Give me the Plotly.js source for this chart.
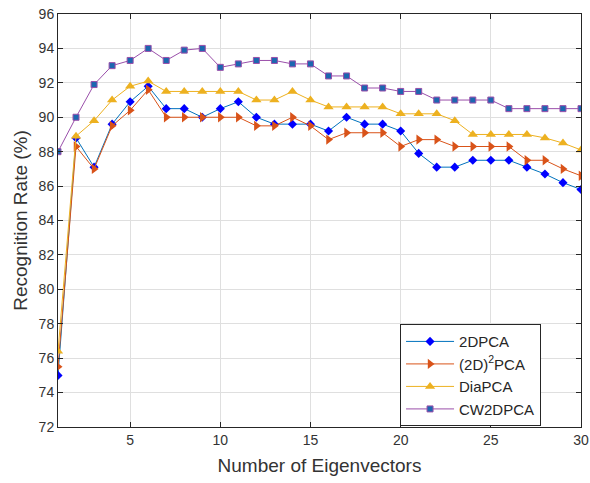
<!DOCTYPE html>
<html>
<head>
<meta charset="utf-8">
<script src="https://cdn.plot.ly/plotly-3.0.1.min.js"></script>
<style>html,body{margin:0;padding:0;background:#fff;}#chart{width:590px;height:483px;}</style>
</head>
<body>
<div id="chart"></div>
<script>
var eigenvectors = [1,2,3,4,5,6,7,8,9,10,11,12,13,14,15,16,17,18,19,20,21,22,23,24,25,26,27,28,29,30];
var pca2d = [75.0,88.8,87.1,89.6,90.9,91.8,90.5,90.5,90.0,90.5,90.9,90.0,89.6,89.6,89.6,89.2,90.0,89.6,89.6,89.2,87.9,87.1,87.1,87.5,87.5,87.5,87.1,86.7,86.2,85.8];
var pca2d2 = [75.5,88.3,87.0,89.5,90.4,91.6,90.0,90.0,90.0,90.0,90.0,89.5,89.5,90.0,89.5,88.7,89.1,89.1,89.1,88.3,88.7,88.7,88.3,88.3,88.3,88.3,87.5,87.5,87.0,86.6];
var diaPCA = [76.4,88.9,89.8,91.0,91.8,92.1,91.5,91.5,91.5,91.5,91.5,91.0,91.0,91.5,91.0,90.6,90.6,90.6,90.6,90.2,90.2,90.2,89.8,89.0,89.0,89.0,89.0,88.8,88.5,88.1];
var cw2dpca = [88.0,90.0,91.9,93.0,93.3,94.0,93.3,93.9,94.0,92.9,93.1,93.3,93.3,93.1,93.1,92.4,92.4,91.7,91.7,91.5,91.5,91.0,91.0,91.0,91.0,90.5,90.5,90.5,90.5,90.5];
var seriesNames = ['2DPCA','(2D)<sup>2</sup>PCA','DiaPCA','CW2DPCA'];
var xTicks = [5,10,15,20,25,30];
var yTicks = [72,74,76,78,80,82,84,86,88,90,92,94,96];

var traces = [
  {x: eigenvectors, y: pca2d, name: seriesNames[0], mode: 'lines+markers',
   line: {color: '#0072BD', width: 1},
   marker: {symbol: 'diamond', size: 7, color: '#0000FF', line: {width: 0}}},
  {x: eigenvectors, y: pca2d2, name: seriesNames[1], mode: 'lines+markers',
   line: {color: '#D95319', width: 1},
   marker: {symbol: 'triangle-right', size: 9, color: '#D95319', line: {width: 0}}},
  {x: eigenvectors, y: diaPCA, name: seriesNames[2], mode: 'lines+markers',
   line: {color: '#EDB120', width: 1},
   marker: {symbol: 'triangle-up', size: 9, color: '#EDB120', line: {width: 0}}},
  {x: eigenvectors, y: cw2dpca, name: seriesNames[3], mode: 'lines+markers',
   line: {color: '#9A4FAA', width: 1},
   marker: {symbol: 'square', size: 6, color: '#1C67B0', line: {color: '#9A4FAA', width: 1}}}
];

var layout = {
  width: 590, height: 483,
  margin: {l: 58, r: 9, t: 14, b: 56},
  paper_bgcolor: '#ffffff', plot_bgcolor: '#ffffff',
  font: {family: 'Liberation Sans, Arial, sans-serif', size: 14, color: '#333333'},
  showlegend: true,
  legend: {x: 0.654, y: 0.249, xanchor: 'left', yanchor: 'top',
    bgcolor: '#ffffff', bordercolor: '#262626', borderwidth: 1,
    font: {size: 15, color: '#262626'}, tracegroupgap: 0, itemwidth: 48},
  xaxis: {range: [1, 30], tickvals: xTicks, ticks: 'inside', ticklen: 5,
    tickcolor: '#262626', showline: true, linecolor: '#262626', linewidth: 1, mirror: 'ticks',
    showgrid: true, gridcolor: '#DFDFDF', zeroline: false,
    title: {text: 'Number of Eigenvectors', font: {size: 19, color: '#333333'}, standoff: 11},
    tickfont: {size: 14, color: '#333333'}},
  yaxis: {range: [72, 96], tickvals: yTicks, ticks: 'inside', ticklen: 5,
    tickcolor: '#262626', showline: true, linecolor: '#262626', linewidth: 1, mirror: 'ticks',
    showgrid: true, gridcolor: '#DFDFDF', zeroline: false,
    title: {text: 'Recognition Rate (%)', font: {size: 19, color: '#333333'}, standoff: 5},
    tickfont: {size: 14, color: '#333333'}}
};

Plotly.newPlot('chart', traces, layout, {displayModeBar: false, staticPlot: true});
</script>
</body>
</html>
